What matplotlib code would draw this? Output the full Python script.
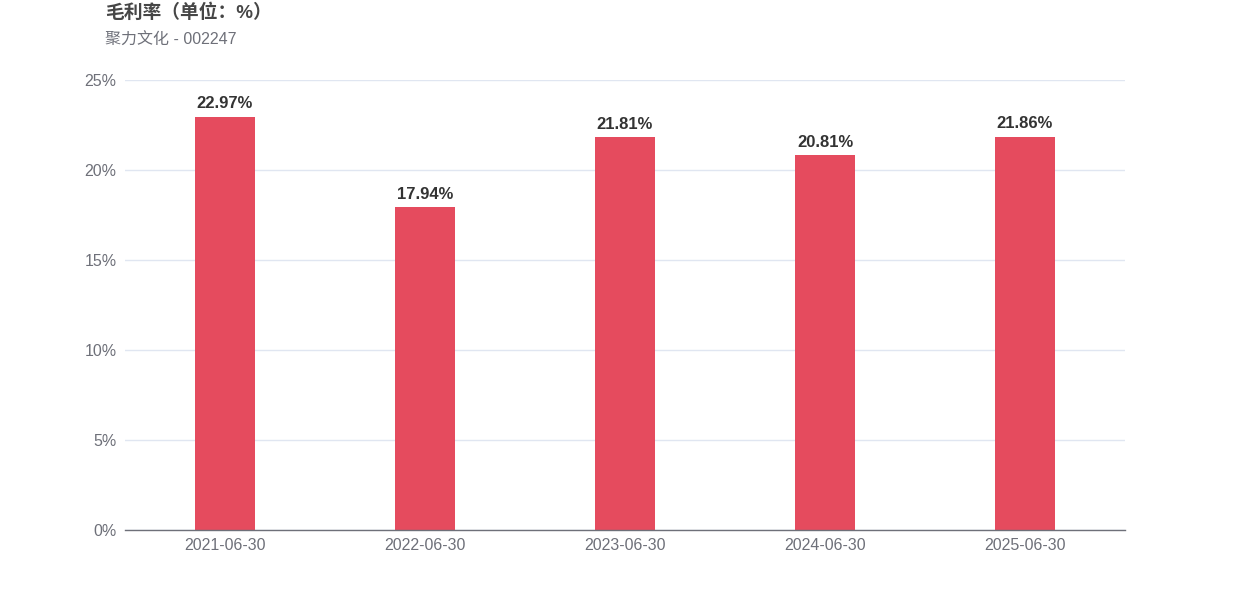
import matplotlib.pyplot as plt
import numpy as np

# ===========================================
# DATA
# ===========================================

dates = ["2021-06-30", "2022-06-30", "2023-06-30", "2024-06-30", "2025-06-30"]
gross_margin = [22.97, 17.94, 21.81, 20.81, 21.86]
y_ticks = [0, 5, 10, 15, 20, 25]

title = "毛利率（单位：%）"
subtitle = "聚力文化 - 002247"

plt.rcParams["font.family"] = ["Liberation Sans", "Noto Sans CJK SC", "DejaVu Sans"]

BAR_COLOR = "#E54B5E"
AXIS_COLOR = "#6E7079"
GRID_COLOR = "#E0E6F1"

# ===========================================
# FIGURE
# ===========================================

fig = plt.figure(figsize=(12.5, 6), dpi=100)
ax = fig.add_axes([0.1, 70 / 600, 0.8, 450 / 600])

x = np.arange(len(dates))

ax.bar(x, gross_margin, width=0.3, color=BAR_COLOR, zorder=3)

for xi, v in zip(x, gross_margin):
    ax.text(
        xi, v + 0.3, f"{v:.2f}%",
        ha="center", va="bottom",
        fontsize=12, fontweight="bold", color="#333333"
    )

ax.set_xlim(-0.5, len(dates) - 0.5)
ax.set_ylim(0, 25)

ax.set_xticks(x)
ax.set_xticklabels(dates)
ax.set_yticks(y_ticks)
ax.set_yticklabels([f"{t}%" for t in y_ticks])

ax.tick_params(axis="both", length=0, labelsize=11.5, labelcolor=AXIS_COLOR)
ax.tick_params(axis="x", pad=6)
ax.tick_params(axis="y", pad=6)
for lbl in ax.get_yticklabels():
    lbl.set_verticalalignment("center_baseline")

ax.grid(axis="y", color=GRID_COLOR, linewidth=1, zorder=0)

for side in ["top", "right", "left"]:
    ax.spines[side].set_visible(False)
ax.spines["bottom"].set_color(AXIS_COLOR)
ax.spines["bottom"].set_linewidth(1)
ax.spines["bottom"].set_zorder(4)

fig.text(105 / 1250, 1 - 13 / 600, title, ha="left", va="center",
         fontsize=13.5, fontweight="bold", color="#464646")
fig.text(105 / 1250, 1 - 40 / 600, subtitle, ha="left", va="center",
         fontsize=11.5, color="#6E7079")

fig.savefig("out.png", dpi=100)
plt.close(fig)
